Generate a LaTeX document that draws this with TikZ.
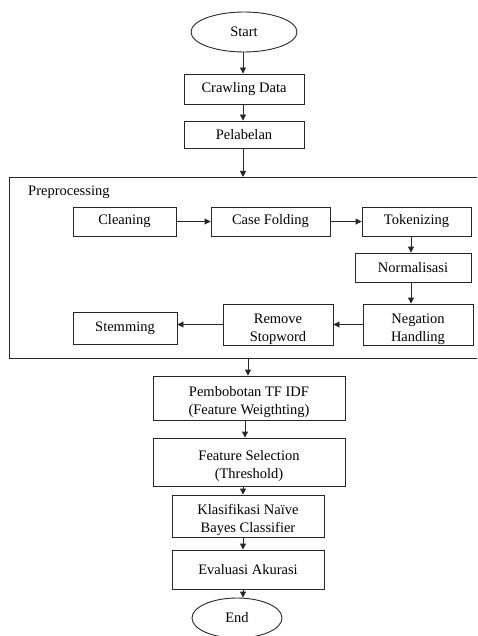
\documentclass[tikz,border=0pt]{standalone}
\usepackage{fontspec}
\setmainfont{Liberation Serif}
\usetikzlibrary{arrows.meta,shapes.geometric}
% taller first line: sets two-line labels a little low in their boxes
\newcommand{\lowline}{\rule{0pt}{18.5pt}}
\begin{document}
\begin{tikzpicture}[x=1pt,y=-1pt,
  every node/.style={font=\fontsize{14.5}{18}\selectfont},
  box/.style={draw=black!85, line width=0.9pt, inner sep=0pt, align=center},
  term/.style={draw=black!85, line width=0.9pt, ellipse, inner sep=0pt},
  flow/.style={draw=black!85, line width=0.9pt, -{Triangle[length=6pt,width=6pt]}}]
\useasboundingbox (0,0) rectangle (477,636);
\clip (0,0) rectangle (477,636);

% guide lines for the vertical connectors
\coordinate (ax) at (243,0);
\coordinate (axb) at (248,0);
\coordinate (axc) at (245,0);
\coordinate (axr) at (411,0);

% main column
\node[term, minimum width=106pt, minimum height=40pt] (start) at (244,32) {Start};
\node[box, minimum width=120pt, minimum height=30pt] (crawl) at (244,89) {Crawling Data};
\node[box, minimum width=120pt, minimum height=27pt] (pel) at (244,134.5) {Pelabelan};

% preprocessing group
\node[draw=black!85, line width=0.9pt, anchor=north west, inner sep=0pt,
      minimum width=490pt, minimum height=181pt] (prep) at (9,177) {};
\node[anchor=west, inner sep=0pt] (preplabel) at (28,192) {Preprocessing};

\node[box, minimum width=103pt, minimum height=29pt] (clean) at (124.5,221.5) {Cleaning};
\node[box, minimum width=119pt, minimum height=29pt] (case) at (270.5,221.5) {Case Folding};
\node[box, minimum width=109pt, minimum height=29pt] (tok) at (416.5,221.5) {Tokenizing};
\node[box, minimum width=116pt, minimum height=29pt] (norm) at (413,267.5) {Normalisasi};
\node[box, minimum width=110pt, minimum height=41pt] (neg) at (418,324.5) {\lowline Negation\\Handling};
\node[box, minimum width=110pt, minimum height=41pt] (rem) at (278,324.5) {\lowline Remove\\Stopword};
\node[box, minimum width=104pt, minimum height=32pt] (stem) at (125,328) {Stemming};

% lower column
\node[box, minimum width=192pt, minimum height=44pt] (pem) at (249,398) {\lowline Pembobotan TF IDF\\(Feature Weigthting)};
\node[box, minimum width=192pt, minimum height=48pt] (feat) at (249,462) {\lowline Feature Selection\\(Threshold)};
\node[box, minimum width=152pt, minimum height=42pt] (klas) at (248,516) {\lowline Klasifikasi Naïve\\Bayes Classifier};
\node[box, minimum width=152pt, minimum height=39pt] (eval) at (248,569.5) {Evaluasi Akurasi};
\node[term, minimum width=90pt, minimum height=40pt] (end) at (237,618) {End};

% connectors
\draw[flow] (start.south -| ax) -- (crawl.north -| ax);
\draw[flow] (crawl.south -| ax) -- (pel.north -| ax);
\draw[flow] (pel.south -| ax) -- (prep.north -| ax);
\draw[flow] (clean.east) -- (case.west);
\draw[flow] (case.east) -- (tok.west);
\draw[flow] (tok.south -| axr) -- (norm.north -| axr);
\draw[flow] (norm.south -| axr) -- (neg.north -| axr);
\draw[flow] (neg.west) -- (rem.east);
\draw[flow] (rem.west) -- (rem.west -| stem.east);
\draw[flow] (prep.south -| axb) -- (pem.north -| axb);
\draw[flow] (pem.south -| axc) -- (feat.north -| axc);
\draw[flow] (feat.south -| ax) -- (klas.north -| ax);
\draw[flow] (klas.south -| ax) -- (eval.north -| ax);
\draw[flow] (eval.south -| ax) -- (end.north -| ax);
\end{tikzpicture}
\end{document}
